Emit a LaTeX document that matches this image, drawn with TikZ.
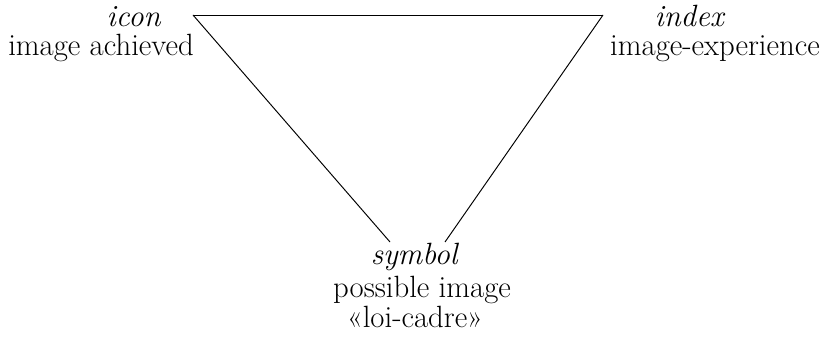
\documentclass[tikz,border=0pt]{standalone}
\usepackage{fontspec}
\usepackage{tikz}

\begin{document}
\begin{tikzpicture}[lbl/.style={anchor=base,inner sep=0pt,font=\fontsize{17.5}{20}\selectfont},
  side/.style={line width=0.55pt}]
\useasboundingbox (0,0) rectangle (16.58,6.76);

\coordinate (tl) at (3.86,6.46);
\coordinate (tr) at (12.06,6.46);
\coordinate (bl) at (7.80,1.92);
\coordinate (br) at (8.90,1.92);

\node[lbl] (icon) at (2.68,6.22) {\textit{icon}};
\node[lbl] (iconcap) at (2.02,5.64) {image achieved};
\node[lbl] (index) at (13.80,6.22) {\textit{index}};
\node[lbl] (indexcap) at (14.30,5.64) {image-experience};
\node[lbl] (symbol) at (8.30,1.46) {\textit{symbol}};
\node[lbl] (symbolcap) at (8.44,0.80) {possible image};
\node[lbl] (loicadre) at (8.30,0.20) {«loi-cadre»};

\draw[side] (tl) -- (tr);
\draw[side] (tl) -- (bl);
\draw[side] (tr) -- (br);
\end{tikzpicture}
\end{document}
